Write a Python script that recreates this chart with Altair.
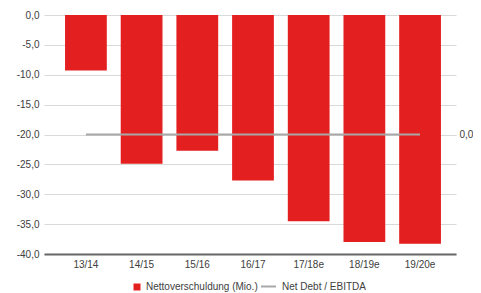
import altair as alt
import pandas as pd

categories = ["13/14", "14/15", "15/16", "16/17", "17/18e", "18/19e", "19/20e"]
nettoverschuldung = [-9.3, -24.9, -22.7, -27.7, -34.5, -38.0, -38.3]
net_debt_ebitda = [0.0, 0.0, 0.0, 0.0, 0.0, 0.0, 0.0]
left_ticks = [0, -5, -10, -15, -20, -25, -30, -35, -40]
right_ticks = [0]
series_bar = "Nettoverschuldung (Mio.)"
series_line = "Net Debt / EBITDA"

df = pd.DataFrame({
    "cat": categories,
    "nv": nettoverschuldung,
    "nd": net_debt_ebitda,
    "s1": [series_bar] * len(categories),
    "s2": [series_line] * len(categories),
})

FONT = "Liberation Sans"
TXT = "#404040"
FS = 10
lab = "replace(replace(format(datum.value, '.1f'), '.', ','), '\u2212', '-')"

x_enc = alt.X(
    "cat:N", sort=categories, title=None,
    scale=alt.Scale(paddingInner=0.25, paddingOuter=0.324, align=0.583),
    axis=alt.Axis(labelAngle=0, ticks=False, domainColor="#666666", domainWidth=2,
                  labelPadding=5, labelColor=TXT, labelFont=FONT, labelFontSize=FS, grid=False),
)

bars = alt.Chart(df).mark_bar(color="#e41f1f").encode(
    x=x_enc,
    y=alt.Y("nv:Q", title=None,
            scale=alt.Scale(domain=[-40, 0], nice=False),
            axis=alt.Axis(values=left_ticks, labelExpr=lab, ticks=False, domain=False,
                          grid=True, gridColor="#d9d9d9", labelPadding=5,
                          labelColor=TXT, labelFont=FONT, labelFontSize=FS)),
    color=alt.Color("s1:N", scale=alt.Scale(range=["#e41f1f"]),
                    legend=alt.Legend(orient="none", legendX=88, legendY=267, title=None,
                                      symbolType="square", symbolSize=49, labelOffset=4,
                                      padding=0, labelFont=FONT, labelFontSize=FS,
                                      labelColor=TXT, symbolStrokeWidth=0)),
)

line = alt.Chart(df).mark_line(strokeWidth=2).encode(
    x=alt.X("cat:N", sort=categories),
    y=alt.Y("nd:Q", title=None,
            scale=alt.Scale(domain=[-1, 1], nice=False),
            axis=alt.Axis(orient="right", values=right_ticks, labelExpr=lab, ticks=False,
                          domain=False, grid=False, labelPadding=3,
                          labelColor=TXT, labelFont=FONT, labelFontSize=FS)),
    stroke=alt.Stroke("s2:N", scale=alt.Scale(range=["#a8a8a8"]),
                      legend=alt.Legend(orient="none", legendX=216, legendY=263, title=None,
                                        symbolType="stroke", symbolSize=225, symbolStrokeWidth=2,
                                        labelOffset=5, padding=0, labelFont=FONT,
                                        labelFontSize=FS, labelColor=TXT)),
)

chart = alt.layer(bars, line).resolve_scale(y="independent", color="independent").properties(
    width=412, height=239,
    autosize=alt.AutoSizeParams(type="none"),
    padding={"left": 36, "top": 7, "right": 17, "bottom": 38},
).configure_view(stroke=None)

chart.save("out.html", embed_options={"renderer": "svg", "actions": False})
